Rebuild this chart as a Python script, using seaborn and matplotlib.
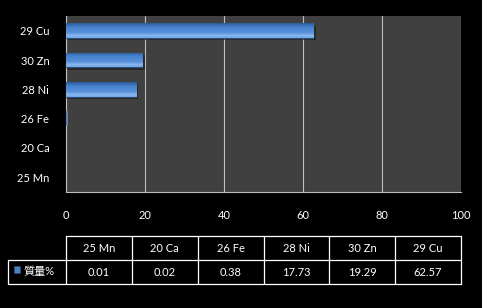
import numpy as np
import pandas as pd
import matplotlib
matplotlib.use("Agg")
import matplotlib.pyplot as plt
import seaborn as sns
from matplotlib.colors import LinearSegmentedColormap
from matplotlib.patches import Rectangle
from matplotlib.lines import Line2D

elements = ["25 Mn", "20 Ca", "26 Fe", "28 Ni", "30 Zn", "29 Cu"]
mass_pct = [0.01, 0.02, 0.38, 17.73, 19.29, 62.57]
series_name = "質量%"
x_ticks = [0, 20, 40, 60, 80, 100]

sns.set_theme(style="dark")
plt.rcParams['font.family'] = ['Lato', 'Noto Sans CJK JP', 'DejaVu Sans']

W, H = 482, 308
fig = plt.figure(figsize=(W / 100, H / 100), dpi=100, facecolor="black")

L, R, T, B = 66, 461, 16, 192
ax = fig.add_axes([L / W, 1 - B / H, (R - L) / W, (B - T) / H])
ax.set_facecolor("#404040")

order = elements[::-1]  # top to bottom
df = pd.DataFrame({"element": elements, "value": mass_pct})
sns.barplot(data=df, y="element", x="value", order=order, orient="h",
            color="#4F81BD", width=0.5, ax=ax, zorder=3)

ax.set_xlim(0, 100)
ax.set_xticks(x_ticks)
ax.xaxis.grid(True, color="#BFBFBF", linewidth=0.8, zorder=1)
ax.yaxis.grid(False)
for s in ["left", "bottom"]:
    ax.spines[s].set_visible(True)
    ax.spines[s].set_color("#BFBFBF")
    ax.spines[s].set_linewidth(0.8)
for s in ["top", "right"]:
    ax.spines[s].set_visible(False)
ax.set_xlabel("")
ax.set_ylabel("")
ax.tick_params(axis="both", colors="white", labelsize=8, length=0)
ax.tick_params(axis="x", pad=13)
ax.tick_params(axis="y", pad=12)
for lab in ax.get_xticklabels() + ax.get_yticklabels():
    lab.set_color("white")

# gradient + shadow on bars
cmap = LinearSegmentedColormap.from_list(
    "bar", [(0.0, "#2C5A98"), (0.25, "#4681CC"), (0.65, "#5791DA"),
            (0.85, "#8DBBF0"), (1.0, "#6EA2E2")])
grad = np.linspace(0, 1, 64).reshape(-1, 1)
for p in list(ax.patches):
    x0, y0 = p.get_x(), p.get_y()
    w, h = p.get_width(), p.get_height()
    if w < 1:
        p.set_edgecolor("none")
        continue
    sh = Rectangle((x0, y0 + 0.08), w + 0.6, h, facecolor="#1a1a1a",
                   alpha=0.6, edgecolor="none", zorder=2)
    ax.add_patch(sh)
    p.set_edgecolor("#2A4F7F")
    p.set_linewidth(0.6)
    im = ax.imshow(grad, aspect="auto", cmap=cmap,
                   extent=[x0, x0 + w, y0 + h, y0], origin="upper",
                   zorder=4, interpolation="bicubic")
    im.set_clip_path(p)
ax.set_xlim(0, 100)
ax.set_ylim(5.5, -0.5)

# data table in pixel coordinates
ov = fig.add_axes([0, 0, 1, 1], facecolor="none")
ov.set_xlim(0, W)
ov.set_ylim(H, 0)
ov.axis("off")

y_top, y_mid, y_bot = 236, 260, 284
x_left = 8
n = len(elements)
col_edges = [L + (R - L) * i / n for i in range(n + 1)]
lc = "white"
lw = 0.9
ov.add_line(Line2D([L, R], [y_top, y_top], color=lc, lw=lw))
ov.add_line(Line2D([x_left, R], [y_mid, y_mid], color=lc, lw=lw))
ov.add_line(Line2D([x_left, R], [y_bot, y_bot], color=lc, lw=lw))
ov.add_line(Line2D([x_left, x_left], [y_mid, y_bot], color=lc, lw=lw))
for xe in col_edges:
    ov.add_line(Line2D([xe, xe], [y_top, y_bot], color=lc, lw=lw))
for i, (el, v) in enumerate(zip(elements, mass_pct)):
    cx = (col_edges[i] + col_edges[i + 1]) / 2
    ov.text(cx, (y_top + y_mid) / 2, el, color="white", fontsize=8,
            ha="center", va="center")
    ov.text(cx, (y_mid + y_bot) / 2, f"{v:.2f}", color="white", fontsize=8,
            ha="center", va="center")
# legend key
key = Rectangle((14, 266), 6, 7, facecolor="#4F81BD", edgecolor="#2A4F7F",
                linewidth=0.5)
ov.add_patch(key)
ov.text(24, (y_mid + y_bot) / 2, series_name, color="white", fontsize=8,
        ha="left", va="center")

fig.savefig("out.png", dpi=100, facecolor="black")
